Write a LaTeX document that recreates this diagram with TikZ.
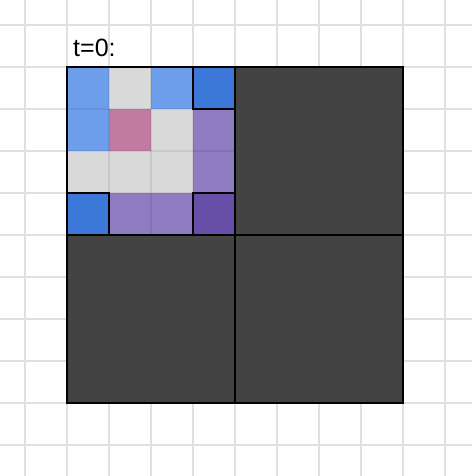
\documentclass[tikz,border=0pt]{standalone}
\usepackage{fontspec}
\setmainfont{Liberation Sans}
\definecolor{gridc}{HTML}{E0E0E0}
\definecolor{lb}{HTML}{6D9EEB}
\definecolor{db}{HTML}{3C78D8}
\definecolor{lg}{HTML}{D9D9D9}
\definecolor{pk}{HTML}{C27BA0}
\definecolor{pu}{HTML}{8E7CC3}
\definecolor{dp}{HTML}{674EA7}
\definecolor{dk}{HTML}{434343}
\begin{document}
\begin{tikzpicture}[x=1pt,y=-1pt,
  gridline/.style={gridc,line width=2pt},
  seam/.style={black,opacity=0.07,line width=2pt},
  edge/.style={black,line width=2pt}]
\useasboundingbox (0,0) rectangle (472,476);
\fill[white] (0,0) rectangle (472,476);
\foreach \i in {0,...,10}{
  \draw[gridline] ({25+42*\i},0) -- ({25+42*\i},476);
  \draw[gridline] (0,{25+42*\i}) -- (472,{25+42*\i});
}
\foreach \c/\r/\col in {0/0/lb,1/0/lg,2/0/lb,3/0/db,
                        0/1/lb,1/1/pk,2/1/lg,3/1/pu,
                        0/2/lg,1/2/lg,2/2/lg,3/2/pu,
                        0/3/db,1/3/pu,2/3/pu,3/3/dp}{
  \fill[\col] ({67+42*\c},{67+42*\r}) rectangle +(42,42);
}
\foreach \i in {1,2,3}{
  \draw[seam] ({67+42*\i},67) -- ({67+42*\i},235);
  \draw[seam] (67,{67+42*\i}) -- (235,{67+42*\i});
}
\fill[dk] (235,67) rectangle (403,235);
\fill[dk] (67,235) rectangle (235,403);
\fill[dk] (235,235) rectangle (403,403);
\draw[edge] (67,67) rectangle (235,235);
\draw[edge] (235,67) rectangle (403,235);
\draw[edge] (67,235) rectangle (235,403);
\draw[edge] (235,235) rectangle (403,403);
\draw[edge] (193,67) rectangle (235,109);
\draw[edge] (67,193) rectangle (109,235);
\draw[edge] (193,193) rectangle (235,235);
\node[anchor=base west,inner sep=0pt,font=\fontsize{25}{30}\selectfont] (label) at (73,57) {t=0:};
\end{tikzpicture}
\end{document}
